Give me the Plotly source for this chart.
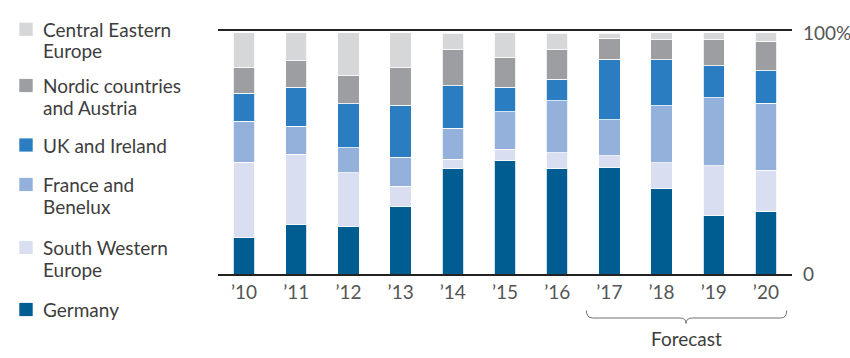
import plotly.graph_objects as go

years = ["’10", "’11", "’12", "’13", "’14", "’15", "’16", "’17", "’18", "’19", "’20"]

germany = [15.2, 20.7, 19.9, 28.0, 43.6, 47.1, 43.6, 44.3, 35.6, 24.2, 26.1]
south_western = [31.1, 28.9, 22.2, 8.3, 4.1, 4.7, 6.8, 4.7, 10.6, 20.7, 16.9]
france_benelux = [17.0, 11.6, 10.2, 12.2, 12.7, 15.5, 21.5, 14.9, 23.6, 28.3, 27.8]
uk_ireland = [11.6, 16.2, 18.4, 21.5, 17.7, 10.2, 8.8, 25.1, 19.1, 13.1, 13.5]
nordic_austria = [10.8, 11.0, 11.5, 15.5, 14.9, 12.3, 12.3, 8.7, 8.3, 10.9, 12.2]
central_eastern = [14.4, 11.6, 17.8, 14.5, 6.9, 10.2, 6.9, 2.2, 2.8, 2.8, 3.6]

series_names = ["Germany", "South Western Europe", "France and Benelux",
                "UK and Ireland", "Nordic countries and Austria", "Central Eastern Europe"]
legend_lines = [["Germany"], ["South Western", "Europe"], ["France and", "Benelux"],
                ["UK and Ireland"], ["Nordic countries", "and Austria"], ["Central Eastern", "Europe"]]
series_values = [germany, south_western, france_benelux, uk_ireland, nordic_austria, central_eastern]
colors = ["#005D91", "#D9DFF0", "#93B1DB", "#2A7DC1", "#9C9EA2", "#D6D7D9"]

ytick_vals = [0, 100]
ytick_text = ["0", "100%"]
forecast_label = "Forecast"

W, H = 850, 358
L, R, T, B = 218, 58, 31, 84
plot_h = H - T - B
plot_w = W - L - R

def py2paper(py):
    return (H - B - py) / plot_h

def px2paper(px):
    return (px - L) / plot_w

FONT = "Lato"
TEXT_COLOR = "#3d3d3d"
FS = 19
LINE_PITCH = 22

fig = go.Figure()
for name, vals, col in zip(series_names, series_values, colors):
    fig.add_trace(go.Bar(x=years, y=vals, name=name, marker_color=col,
                         marker_line_color="white", marker_line_width=0.8,
                         width=0.41, showlegend=False))

# Manual legend (top to bottom)
legend_square_py = {5: 29.3, 4: 85.5, 3: 145, 2: 184.5, 1: 247.5, 0: 309.5}
legend_text_py = {5: 29, 4: 85, 3: 145, 2: 184, 1: 247.5, 0: 309.5}
shapes = []
annotations = []
for i in range(6):
    cy = legend_square_py[i]
    shapes.append(dict(type="rect", xref="paper", yref="paper",
                       x0=px2paper(19.3), x1=px2paper(32.7),
                       y0=py2paper(cy + 6.6), y1=py2paper(cy - 6.6),
                       fillcolor=colors[i], line_width=0))
    for k, line in enumerate(legend_lines[i]):
        annotations.append(dict(xref="paper", yref="paper", x=px2paper(40.5),
                                y=py2paper(legend_text_py[i] + k * LINE_PITCH),
                                xanchor="left", yanchor="middle",
                                text=line, showarrow=False, align="left",
                                font=dict(family=FONT, size=FS, color=TEXT_COLOR)))

# Forecast bracket
x0, xc, x1 = 6.56, 8.47, 10.4
yt, ym, yb = py2paper(310.5), py2paper(318), py2paper(323.5)
c = 0.12
path = (f"M {x0},{yt} Q {x0},{ym} {x0+c},{ym} L {xc-c},{ym} Q {xc},{ym} {xc},{yb} "
        f"Q {xc},{ym} {xc+c},{ym} L {x1-c},{ym} Q {x1},{ym} {x1},{yt}")
shapes.append(dict(type="path", xref="x", yref="paper", path=path,
                   line=dict(color="#707070", width=1)))
annotations.append(dict(xref="x", yref="paper", x=xc, y=py2paper(338.5),
                        text=forecast_label, showarrow=False, xanchor="center", yanchor="middle",
                        font=dict(family=FONT, size=FS, color=TEXT_COLOR)))

fig.update_layout(
    width=W, height=H,
    margin=dict(l=L, r=R, t=T, b=B, pad=0),
    paper_bgcolor="white", plot_bgcolor="white",
    barmode="stack", bargap=0.59,
    font=dict(family=FONT, size=FS, color=TEXT_COLOR),
    shapes=shapes, annotations=annotations,
    xaxis=dict(showline=True, mirror=True, linecolor="#222222", linewidth=1.5,
               showgrid=False, ticks="", range=[-0.5, 10.5], automargin=False,
               tickfont=dict(family=FONT, size=FS, color="#555555")),
    yaxis=dict(range=[0, 100.8], showgrid=False, zeroline=False, showline=False,
               side="right", tickvals=ytick_vals, ticktext=ytick_text, ticks="",
               ticklabelstandoff=10, automargin=False,
               tickfont=dict(family=FONT, size=FS, color="#555555")),
)

fig.write_html("out.html", config={"displayModeBar": False},
               post_script="document.body.style.margin='0';document.body.style.overflow='hidden';")
